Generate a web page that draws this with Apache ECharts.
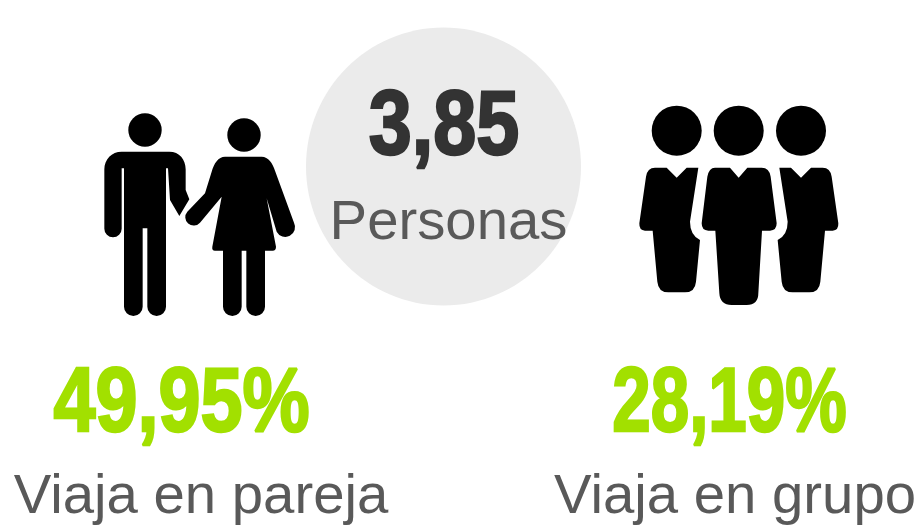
<!DOCTYPE html>
<html>
<head>
<meta charset="utf-8">
<style>
    html, body { margin: 0; background: #fff; }
    #chart { width: 921px; height: 526px; }
</style>
<script src="https://cdn.jsdelivr.net/npm/echarts@6/dist/echarts.min.js"></script>
</head>
<body>
<div id="chart"></div>
<script>
const personas = '3,85';
const personasLabel = 'Personas';
const shares = ['49,95%', '28,19%'];
const shareLabels = ['Viaja en pareja', 'Viaja en grupo'];

// iconos dibujados a 3x, sobre el origen de cada grupo
const coupleBody = [
    'M95 155 L238 155 C268 155 287 178 287 208 L287 270 L298 298 L268 348 L240 300 L234 205 L228 205 L228 620 A28 28 0 0 1 172 620 L172 385 L158 385 L158 620 A28 28 0 0 1 102 620 L102 205 L95 205 L95 386 A26 26 0 0 1 43 386 L43 208 C43 178 65 155 95 155 Z',
    'M405 170 L515 170 C535 170 548 190 555 212 L612 368 A28 28 0 0 1 560 395 L530 295 L558 440 Q558 452 548 452 L525 452 L525 620 A28 28 0 0 1 469 620 L469 452 L455 452 L455 620 A28 28 0 0 1 399 620 L399 452 L375 452 Q365 452 367 440 L395 290 L330 368 A25 25 0 0 1 292 335 L345 280 L365 215 C372 190 385 170 405 170 Z'
];
const groupBody = [
    'M75 218 L110 218 L140 248 L170 218 L205 218 L180 380 Q180 420 210 435 L198 560 Q195 592 165 592 L115 592 Q85 592 82 560 L68 407 L45 407 Q27 407 28 385 L48 245 Q52 218 75 218 Z',
    'M255 218 L300 218 L326 248 L352 218 L395 218 Q418 218 422 245 L440 385 Q440 407 420 407 L396 407 L385 595 Q385 630 350 630 L305 630 Q270 630 268 595 L256 407 L235 407 Q215 407 215 385 L232 245 Q237 218 255 218 Z',
    'M578 218 L543 218 L513 248 L483 218 L448 218 L473 380 Q473 420 443 435 L455 560 Q458 592 488 592 L538 592 Q568 592 571 560 L585 407 L608 407 Q626 407 625 385 L605 245 Q601 218 578 218 Z'
];

const heavy = 'bold 91px "Liberation Sans"';
const plain = '56.3px "Liberation Sans"';

function bigText(text, x, y, color, scaleX) {
    return {
        type: 'text', x: x, y: y, scaleX: scaleX,
        style: { text: text, font: heavy, fill: color, stroke: color, lineWidth: 2.5, textAlign: 'center', textVerticalAlign: 'middle' }
    };
}

function smallText(text, x, y) {
    return {
        type: 'text', x: x, y: y,
        style: { text: text, font: plain, fill: '#595959', textAlign: 'center', textVerticalAlign: 'middle' }
    };
}

function icon(pathData, x, y) {
    return { type: 'path', x: x, y: y, scaleX: 1 / 3, scaleY: 1 / 3, shape: { pathData: pathData }, style: { fill: '#000' } };
}

function head(cx, cy, r) {
    return { type: 'circle', shape: { cx: cx, cy: cy, r: r }, style: { fill: '#000' } };
}

const pieces = [
    { type: 'ellipse', shape: { cx: 443.5, cy: 166.5, rx: 137.5, ry: 139 }, style: { fill: '#ebebeb' } },
    head(145, 130, 16.7),
    head(244, 135, 16.7),
    icon(coupleBody[0], 90, 100),
    icon(coupleBody[1], 90, 100),
    head(676.7, 130.7, 25),
    head(738.7, 130.7, 25),
    head(801, 130.7, 25),
    icon(groupBody[0], 630, 95),
    icon(groupBody[1], 630, 95),
    icon(groupBody[2], 630, 95),
    bigText(personas, 444, 129, '#333', 0.85),
    smallText(personasLabel, 448.5, 223),
    bigText(shares[0], 181.5, 406, '#a2e000', 0.83),
    bigText(shares[1], 729.5, 406, '#a2e000', 0.76),
    smallText(shareLabels[0], 201, 497),
    smallText(shareLabels[1], 735, 497)
];

const chart = echarts.init(document.getElementById('chart'));

chart.setOption({
    backgroundColor: '#fff',
    animation: false,
    series: [{
        type: 'custom',
        coordinateSystem: 'none',
        silent: true,
        data: pieces.map((p, i) => i),
        renderItem: params => pieces[params.dataIndex]
    }]
});
</script>
</body>
</html>
